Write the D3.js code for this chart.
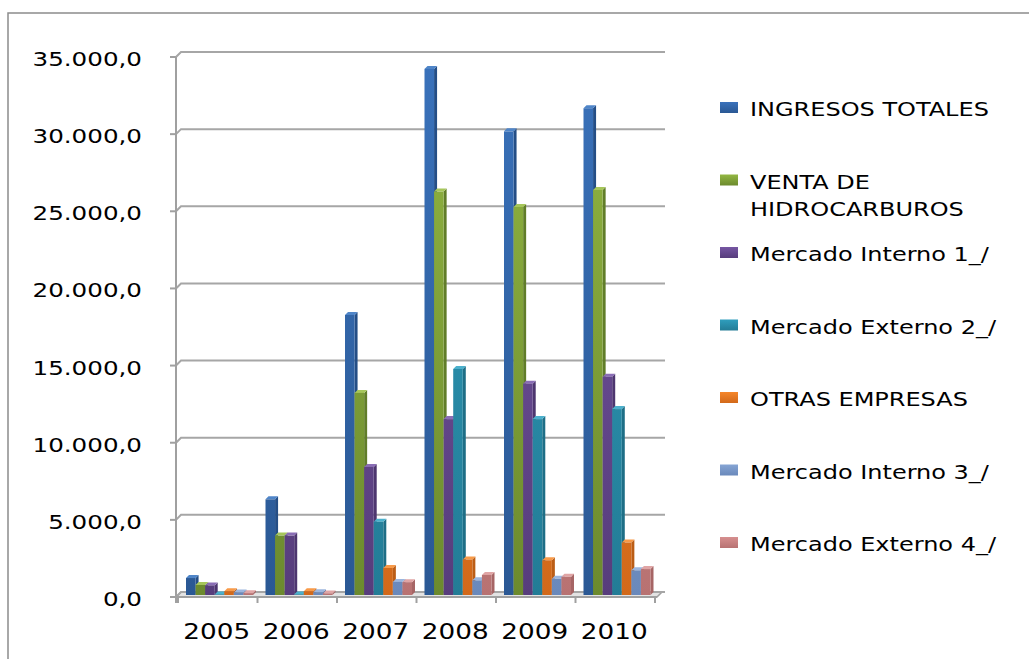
<!DOCTYPE html>
<html>
<head>
<meta charset="utf-8">
<script src="https://cdn.jsdelivr.net/npm/d3@7"></script>
<style>
  body { margin: 0; background: #fff; }
  text { font-family: "DejaVu Sans", Verdana, sans-serif; fill: #000; }
</style>
</head>
<body>
<svg id="chart" width="1029" height="659"></svg>
<script>
const years = ["2005", "2006", "2007", "2008", "2009", "2010"];
const seriesNames = ["INGRESOS TOTALES", "VENTA DE HIDROCARBUROS", "Mercado Interno 1_/", "Mercado Externo 2_/",
  "OTRAS EMPRESAS", "Mercado Interno 3_/", "Mercado Externo 4_/"];
const legendLines = [["INGRESOS  TOTALES"], ["VENTA  DE", "HIDROCARBUROS"], ["Mercado Interno 1_/"], ["Mercado Externo 2_/"],
  ["OTRAS EMPRESAS"], ["Mercado Interno 3_/"], ["Mercado Externo 4_/"]];

const ingresosTotales    = [1100, 6200, 18150, 34100, 30050, 31550];
const ventaHidrocarburos = [650, 3850, 13100, 26150, 25150, 26250];
const mercadoInterno1    = [620, 3850, 8300, 11400, 13700, 14150];
const mercadoExterno2    = [40, 40, 4750, 14650, 11400, 12050];
const otrasEmpresas      = [250, 250, 1750, 2300, 2250, 3400];
const mercadoInterno3    = [170, 180, 850, 950, 1050, 1600];
const mercadoExterno4    = [120, 100, 830, 1300, 1180, 1680];

const yTicks = [0, 5000, 10000, 15000, 20000, 25000, 30000, 35000];

const allSeries = [ingresosTotales, ventaHidrocarburos, mercadoInterno1, mercadoExterno2,
  otrasEmpresas, mercadoInterno3, mercadoExterno4];

// face colours: [light, dark, side, top]
const colors = [
  ["#3a72bb", "#2a5894", "#244e86", "#4f85c8"],
  ["#93b742", "#6c8a2e", "#617d29", "#a6c65a"],
  ["#7656a3", "#573d7c", "#4d366f", "#8a6db5"],
  ["#2f9ebd", "#237c96", "#1e6e86", "#4bb0cc"],
  ["#f5862a", "#d2691a", "#bb5d16", "#f89a48"],
  ["#86a5d4", "#6a89bb", "#5f7ca9", "#9cb6de"],
  ["#d68f8f", "#b87272", "#a66565", "#e0a5a5"]
];

const fmt = v => d3.format(",.1f")(v).replace(/,/g, "#").replace(".", ",").replace(/#/g, ".");

const depth = 5;      // 3d offset of the back wall
const barDepth = 3;   // 3d offset of each column
const stretch = 1.2;  // text is drawn wide in the reference

const svg = d3.select("#chart");
const defs = svg.append("defs");

// frame
svg.append("rect")
  .attr("x", 8).attr("y", 13)
  .attr("width", 1040).attr("height", 700)
  .attr("fill", "none").attr("stroke", "#8c8c8c").attr("stroke-width", 1.5);

const x0 = d3.scaleBand().domain(years).range([178, 655]);
const x1 = d3.scaleBand().domain(d3.range(seriesNames.length)).range([0, 67]);
const yFront = d3.scaleLinear().domain([0, 35000]).range([597, 57]);
const yBar = v => yFront(v) - 2;

colors.forEach((c, i) => {
  const g = defs.append("linearGradient")
    .attr("id", "grad" + i)
    .attr("gradientUnits", "userSpaceOnUse")
    .attr("x1", 0).attr("y1", yBar(35000)).attr("x2", 0).attr("y2", yBar(0));
  g.append("stop").attr("offset", "0%").attr("stop-color", c[0]);
  g.append("stop").attr("offset", "100%").attr("stop-color", c[1]);
});

const left = 176, right = 657;

// floor
svg.append("path")
  .attr("d", `M${left},${yFront(0)} L${left + depth},${yFront(0) - depth} L${right + depth},${yFront(0) - depth} L${right},${yFront(0)} Z`)
  .attr("fill", "#e3e3e3").attr("stroke", "#a0a0a0").attr("stroke-width", 1.5);

// gridlines on the back wall
svg.append("g").selectAll("path")
  .data(yTicks)
  .join("path")
  .attr("d", d => `M${left},${yFront(d)} L${left + depth},${yFront(d) - depth} L${right + depth + 3},${yFront(d) - depth}`)
  .attr("fill", "none").attr("stroke", "#a6a6a6").attr("stroke-width", 2);

// y axis
svg.append("line")
  .attr("x1", left).attr("x2", left)
  .attr("y1", yFront(35000)).attr("y2", yFront(0) + 6)
  .attr("stroke", "#a0a0a0").attr("stroke-width", 2);

svg.append("g").selectAll("line")
  .data(yTicks)
  .join("line")
  .attr("x1", left - 6).attr("x2", left)
  .attr("y1", d => yFront(d)).attr("y2", d => yFront(d))
  .attr("stroke", "#a0a0a0").attr("stroke-width", 2);

svg.append("g").selectAll("text")
  .data(yTicks)
  .join("text")
  .attr("transform", d => `translate(142,${yFront(d) + 9}) scale(1.23,1)`)
  .attr("text-anchor", "end")
  .attr("font-size", 20)
  .text(fmt);

// x axis
svg.append("line")
  .attr("x1", left).attr("x2", right)
  .attr("y1", yFront(0)).attr("y2", yFront(0))
  .attr("stroke", "#a0a0a0").attr("stroke-width", 2);

const xTickPos = years.map(d => x0(d)).concat([x0.range()[1]]);
svg.append("g").selectAll("line")
  .data(xTickPos)
  .join("line")
  .attr("x1", d => d).attr("x2", d => d)
  .attr("y1", yFront(0)).attr("y2", yFront(0) + 6)
  .attr("stroke", "#a0a0a0").attr("stroke-width", 2);

svg.append("g").selectAll("text")
  .data(years)
  .join("text")
  .attr("transform", d => `translate(${x0(d) + x0.bandwidth() / 2 - 1},639) scale(1.25,1)`)
  .attr("text-anchor", "middle")
  .attr("font-size", 21)
  .text(d => d);

// columns, drawn left to right so each front face hides the neighbour's side
const bars = [];
years.forEach((yr, j) => {
  allSeries.forEach((s, i) => bars.push({year: yr, s: i, value: s[j]}));
});

const bw = x1.bandwidth();
const barG = svg.append("g").selectAll("g")
  .data(bars)
  .join("g")
  .attr("transform", d => `translate(${x0(d.year) + 8 + x1(d.s)},0)`);

barG.append("path")
  .attr("d", d => {
    const t = yBar(d.value), b = yBar(0);
    return `M${bw},${t} L${bw + barDepth},${t - barDepth} L${bw + barDepth},${b - barDepth} L${bw},${b} Z`;
  })
  .attr("fill", d => colors[d.s][2]);

barG.append("path")
  .attr("d", d => {
    const t = yBar(d.value);
    return `M0,${t} L${barDepth},${t - barDepth} L${bw + barDepth},${t - barDepth} L${bw},${t} Z`;
  })
  .attr("fill", d => colors[d.s][3]);

barG.append("rect")
  .attr("x", 0).attr("width", bw)
  .attr("y", d => yBar(d.value))
  .attr("height", d => yBar(0) - yBar(d.value))
  .attr("fill", d => `url(#grad${d.s})`);

// legend
colors.forEach((c, i) => {
  const g = defs.append("linearGradient")
    .attr("id", "lg" + i)
    .attr("x1", 0).attr("y1", 0).attr("x2", 0).attr("y2", 1);
  g.append("stop").attr("offset", "0%").attr("stop-color", c[0]);
  g.append("stop").attr("offset", "100%").attr("stop-color", c[1]);
});

const legend = svg.append("g").selectAll("g")
  .data(seriesNames)
  .join("g")
  .attr("transform", (d, i) => `translate(720,${109 + i * 72.5})`);

legend.append("rect")
  .attr("x", 0).attr("y", -7)
  .attr("width", 18).attr("height", 11)
  .attr("fill", (d, i) => `url(#lg${i})`);

legend.each(function(d, i) {
  d3.select(this).selectAll("text")
    .data(legendLines[i])
    .join("text")
    .attr("transform", (t, k) => `translate(30,${7 + k * 27}) scale(${stretch},1)`)
    .attr("font-size", 20)
    .text(t => t);
});
</script>
</body>
</html>
